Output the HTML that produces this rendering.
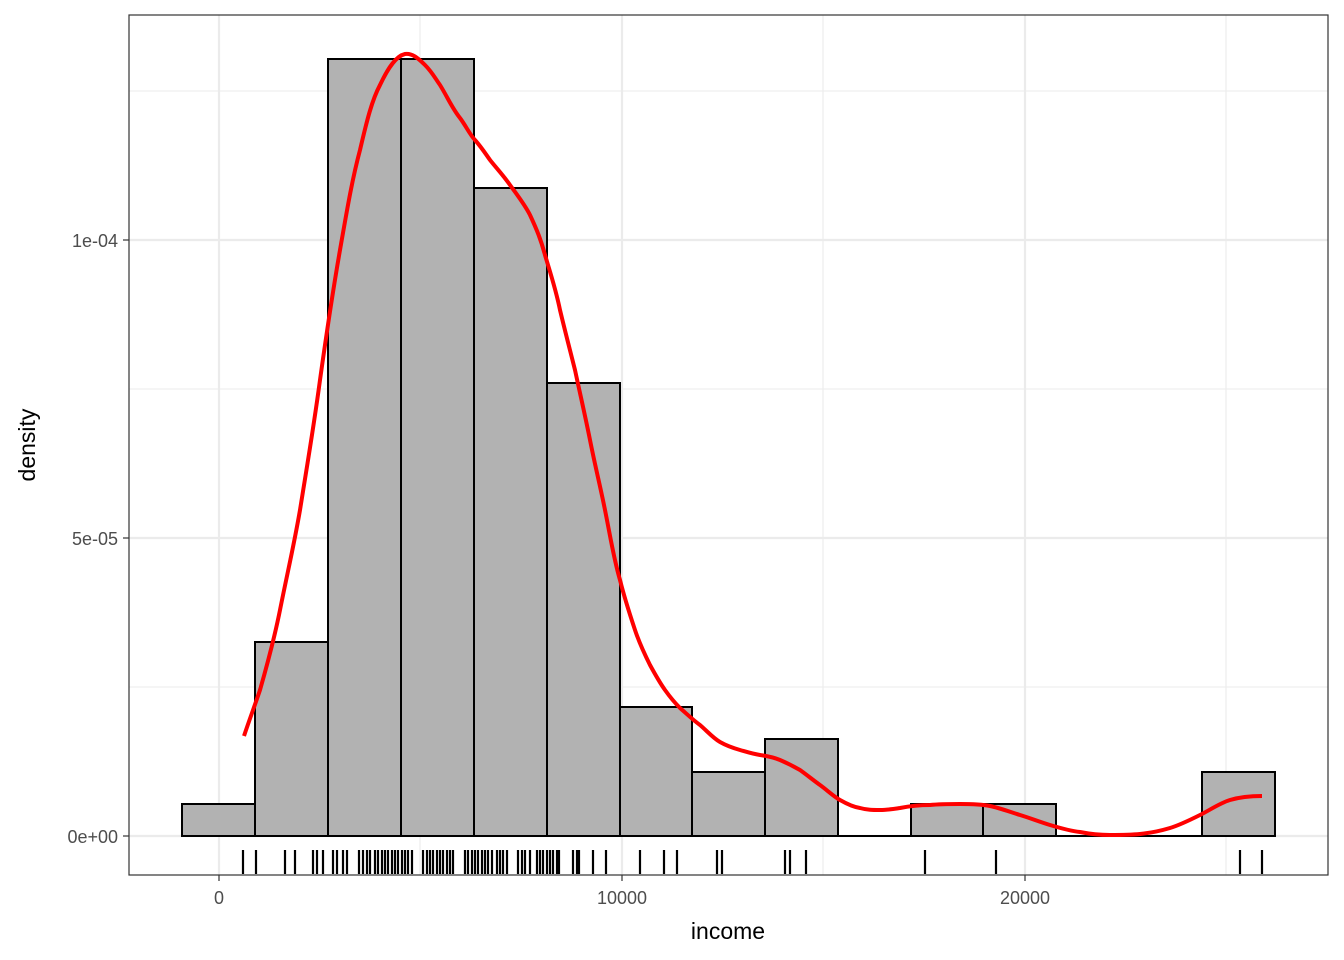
<!DOCTYPE html>
<html><head><style>body{margin:0;background:#fff}svg{display:block;font-family:"Liberation Sans",Arial,sans-serif}</style></head><body>
<svg width="1344" height="960" xmlns="http://www.w3.org/2000/svg">
<rect x="0" y="0" width="1344" height="960" fill="#fff"/>
<g stroke="#ebebeb" stroke-width="1.1">
<line x1="129" x2="1328" y1="687" y2="687"/><line x1="129" x2="1328" y1="389" y2="389"/><line x1="129" x2="1328" y1="91" y2="91"/>
<line x1="420" x2="420" y1="15" y2="875"/><line x1="823" x2="823" y1="15" y2="875"/><line x1="1226" x2="1226" y1="15" y2="875"/>
</g>
<g stroke="#ebebeb" stroke-width="2.2">
<line x1="129" x2="1328" y1="836" y2="836"/><line x1="129" x2="1328" y1="538" y2="538"/><line x1="129" x2="1328" y1="240" y2="240"/>
<line x1="219" x2="219" y1="15" y2="875"/><line x1="622" x2="622" y1="15" y2="875"/><line x1="1025" x2="1025" y1="15" y2="875"/>
</g>
<g fill="#b2b2b2" stroke="#000" stroke-width="2">
<rect x="182" y="804" width="73" height="32"/>
<rect x="255" y="642" width="73" height="194"/>
<rect x="328" y="59" width="73" height="777"/>
<rect x="401" y="59" width="73" height="777"/>
<rect x="474" y="188" width="73" height="648"/>
<rect x="547" y="383" width="73" height="453"/>
<rect x="620" y="707" width="72" height="129"/>
<rect x="692" y="772" width="73" height="64"/>
<rect x="765" y="739" width="73" height="97"/>
<line x1="838" x2="911" y1="836" y2="836"/>
<rect x="911" y="804" width="72" height="32"/>
<rect x="983" y="804" width="73" height="32"/>
<line x1="1056" x2="1202" y1="836" y2="836"/>
<rect x="1202" y="772" width="73" height="64"/>
</g>
<path id="curve" fill="none" stroke="#ff0000" stroke-width="4" stroke-linejoin="round" stroke-linecap="butt" d="M244,736 C250,718 255,705 260,690 C268,662 274,640 280,610 C288,570 294,545 300,510 C308,460 314,425 320,380 C327,330 333,290 340,250 C347,210 352,180 360,150 C367,120 372,100 380,85 C388,68 396,56 405,54 C412,53 418,58 425,65 C432,72 435,78 440,85 C448,98 452,108 460,118 C466,126 470,135 475,140 C482,148 485,153 490,160 C498,170 503,175 510,185 C518,196 525,205 530,215 C537,230 541,240 545,255 C551,275 556,290 560,310 C566,335 570,350 575,370 C581,398 585,415 590,440 C596,470 600,485 605,510 C611,540 614,560 620,580 C625,600 630,615 635,630 C640,645 645,655 650,665 C656,676 660,683 665,690 C670,697 675,703 680,708 C688,715 693,720 700,725 C707,731 713,738 720,742 C727,746 733,748 740,750 C747,752 753,754 760,755 C767,756 773,757 780,760 C787,763 793,766 800,770 C807,775 813,780 820,785 C827,790 833,796 840,800 C847,804 853,807 860,808 C867,810 873,810 880,810 C887,810 893,809 900,808 C910,806 920,805 930,805 C940,804 950,804 960,804 C970,804 980,804 990,806 C1000,808 1010,812 1020,815 C1030,818 1040,822 1050,825 C1060,828 1070,831 1080,832 C1090,834 1100,835 1110,835 C1120,835 1130,835 1140,834 C1150,833 1160,831 1170,828 C1180,825 1190,820 1200,815 C1210,810 1220,803 1230,800 C1240,797 1250,796 1262,796"/>
<g stroke="#000" stroke-width="2.2">
<path d="M243 850v24M256 850v24M285 850v24M295 850v24M313 850v24M317 850v24M323 850v24M333 850v24M337 850v24M343 850v24M347 850v24M359 850v24M363 850v24M367 850v24M370 850v24M375 850v24M378 850v24M382 850v24M385 850v24M388 850v24M392 850v24M395 850v24M398 850v24M402 850v24M405 850v24M408 850v24M412 850v24M423 850v24M427 850v24M430 850v24M433 850v24M437 850v24M440 850v24M443 850v24M447 850v24M450 850v24M453 850v24M465 850v24M468 850v24M472 850v24M475 850v24M478 850v24M482 850v24M485 850v24M488 850v24M492 850v24M497 850v24M500 850v24M503 850v24M507 850v24M518 850v24M522 850v24M525 850v24M530 850v24M537 850v24M540 850v24M543 850v24M547 850v24M550 850v24M553 850v24M557 850v24M559 850v24M573 850v24M577 850v24M579 850v24M593 850v24M606 850v24M640 850v24M664 850v24M677 850v24M717 850v24M722 850v24M785 850v24M790 850v24M806 850v24M925 850v24M996 850v24M1240 850v24M1262 850v24"/>
</g>
<rect x="129" y="15" width="1199" height="860" fill="none" stroke="#333" stroke-width="1.2"/>
<g stroke="#333" stroke-width="1.2">
<line x1="123" x2="129" y1="836" y2="836"/><line x1="123" x2="129" y1="538" y2="538"/><line x1="123" x2="129" y1="240" y2="240"/>
<line x1="219" x2="219" y1="875" y2="881"/><line x1="622" x2="622" y1="875" y2="881"/><line x1="1025" x2="1025" y1="875" y2="881"/>
</g>
<g fill="#4d4d4d" font-size="18" text-anchor="end">
<text x="118" y="843">0e+00</text><text x="118" y="545">5e-05</text><text x="118" y="247">1e-04</text>
</g>
<g fill="#4d4d4d" font-size="18" text-anchor="middle">
<text x="219" y="904">0</text><text x="622" y="904">10000</text><text x="1025" y="904">20000</text>
</g>
<text x="728" y="939" font-size="23" text-anchor="middle">income</text>
<text transform="translate(35,445) rotate(-90)" font-size="23" text-anchor="middle">density</text>
</svg>
</body></html>
